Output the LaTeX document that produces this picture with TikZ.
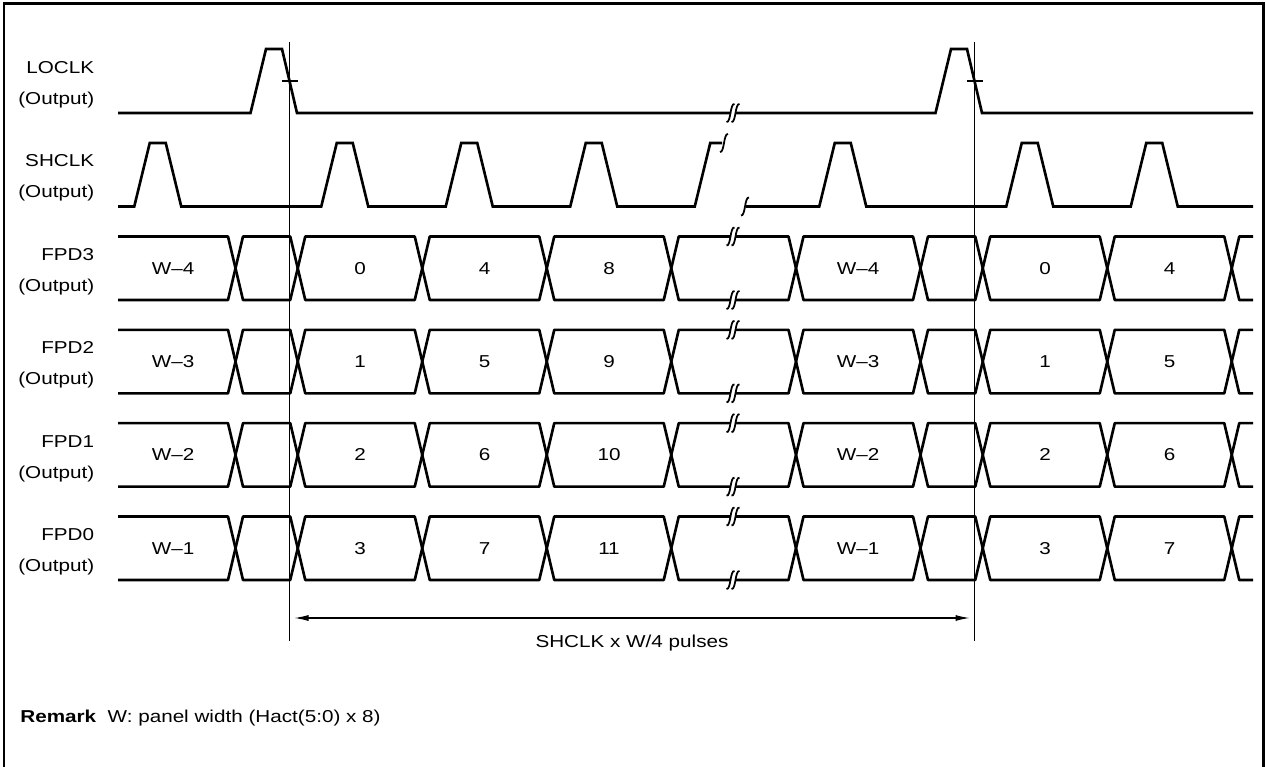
\documentclass[tikz,border=0pt]{standalone}
\usepackage{fontspec}
\setmainfont{Liberation Sans}[FakeStretch=1.2]
\usetikzlibrary{arrows.meta}

\begin{document}
\begin{tikzpicture}[font=\fontsize{9.8}{12}\selectfont,
  sig/.style={line width=1.5pt},
  bus/.style={line width=1.5pt,line join=round},
  guide/.style={line width=0.6pt},
  signame/.style={anchor=base east,inner sep=0pt},
  brk/.pic={
    \fill[white] (-0.13,-0.18) .. controls (-0.04,-0.2) and (-0.06,0.2) .. (0.03,0.18)
      -- (0.13,0.18) .. controls (0.04,0.2) and (0.06,-0.2) .. (-0.03,-0.18) -- cycle;
    \draw[line width=1pt] (-0.13,-0.18) .. controls (-0.04,-0.2) and (-0.06,0.2) .. (0.03,0.18);
    \draw[line width=1pt] (-0.03,-0.18) .. controls (0.06,-0.2) and (0.04,0.2) .. (0.13,0.18);
  },
  halfbrk/.pic={
    \draw[line width=1pt] (-0.08,-0.18) .. controls (0.01,-0.2) and (-0.01,0.2) .. (0.08,0.18);
  }]
\useasboundingbox (0,0) rectangle (25.32,15.32);
\draw[line width=1.7pt] (0.08,-0.5) -- (0.08,15.25) -- (25.27,15.25) -- (25.27,-0.5);

\node[signame] (loclk) at (1.89,13.855) {LOCLK};
\node[signame] (loclk-out) at (1.89,13.235) {(Output)};
\node[signame] (shclk) at (1.89,11.98) {SHCLK};
\node[signame] (shclk-out) at (1.89,11.36) {(Output)};

\draw[sig] (2.36,13.06) -- (5.01,13.06) -- ++(0.31,1.28) -- ++(0.32,0) -- ++(0.30,-1.28)
  -- (18.71,13.06) -- ++(0.31,1.28) -- ++(0.32,0) -- ++(0.30,-1.28) -- (25.06,13.06);
\pic at (14.66,13.06) {brk};

\draw[sig] (2.36,11.19) \foreach \s in {2.685,6.425,8.915,11.405}
  {-- (\s,11.19) -- ++(0.31,1.27) -- ++(0.32,0) -- ++(0.31,-1.27)}
  -- (13.895,11.19) -- ++(0.31,1.27) -- (14.44,12.46);
\draw[sig] (14.92,11.19) \foreach \s in {16.385,20.125,22.615}
  {-- (\s,11.19) -- ++(0.31,1.27) -- ++(0.32,0) -- ++(0.31,-1.27)} -- (25.06,11.19);
\pic at (14.48,12.46) {halfbrk};
\pic at (14.9,11.19) {halfbrk};

\foreach \yb/\n/\w/\va/\vb/\vc in {9.32/3/4/0/4/8,7.453/2/3/1/5/9,5.587/1/2/2/6/10,3.72/0/1/3/7/11}{
  \node[signame] (fpd\n) at (1.89,\yb+0.79) {FPD\n};
  \node[signame] (fpd\n-out) at (1.89,\yb+0.17) {(Output)};
  \draw[bus] (2.36,\yb+1.27) -- (4.56,\yb+1.27) -- (4.71,\yb+0.635) -- (4.56,\yb) -- (2.36,\yb);
  \foreach \a/\b in {4.71/5.955,5.955/8.445,8.445/10.935,10.935/13.425,13.425/15.92,15.92/18.41,18.41/19.655,19.655/22.145,22.145/24.635}
    \draw[bus] (\a,\yb+0.635) -- (\a+0.15,\yb+1.27) -- (\b-0.15,\yb+1.27) -- (\b,\yb+0.635)
      -- (\b-0.15,\yb) -- (\a+0.15,\yb) -- cycle;
  \draw[bus] (25.06,\yb+1.27) -- (24.785,\yb+1.27) -- (24.635,\yb+0.635) -- (24.785,\yb) -- (25.06,\yb);
  \pic at (14.66,\yb) {brk};
  \pic at (14.66,\yb+1.27) {brk};
  \node (fpd\n-w) at (3.46,\yb+0.635) {W--\w};
  \node (fpd\n-a) at (7.2,\yb+0.635) {\va};
  \node (fpd\n-b) at (9.69,\yb+0.635) {\vb};
  \node (fpd\n-c) at (12.18,\yb+0.635) {\vc};
  \node (fpd\n-w2) at (17.16,\yb+0.635) {W--\w};
  \node (fpd\n-a2) at (20.9,\yb+0.635) {\va};
  \node (fpd\n-b2) at (23.39,\yb+0.635) {\vb};
}

\coordinate (ta) at (5.79,14.48);
\coordinate (ba) at (5.79,2.5);
\coordinate (tb) at (19.49,14.48);
\coordinate (bb) at (19.49,2.5);
\coordinate (aa) at (5.79,2.96);
\coordinate (ab) at (19.49,2.96);
\draw[guide] (ta) -- (ba);
\draw[guide] (tb) -- (bb);
\draw[guide] (5.63,13.7) -- (5.95,13.7);
\draw[guide] (19.33,13.7) -- (19.65,13.7);
\draw[guide,{Latex[length=2.8mm,width=1.2mm]}-{Latex[length=2.8mm,width=1.2mm]},shorten <=1mm,shorten >=1mm] (aa) -- (ab);

\node (pulses) at (12.64,2.46) {SHCLK x W/4 pulses};
\node[anchor=west,inner sep=0pt] (remark) at (0.4,0.96) {\textbf{Remark}~~W: panel width (Hact(5:0) x 8)};
\end{tikzpicture}
\end{document}
